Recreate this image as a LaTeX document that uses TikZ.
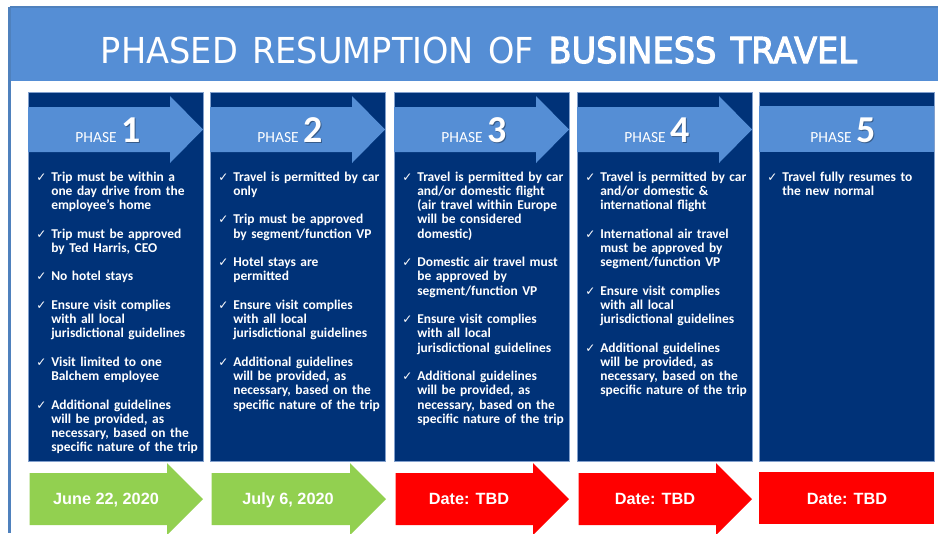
\documentclass[tikz,border=0pt]{standalone}
\usepackage{fontspec}
\newfontfamily\carl{Carlito}
\newfontfamily\arl{Liberation Sans}
\newfontfamily\dvs{DejaVu Sans}
\newfontfamily\ttlfont[WordSpace=1.35]{DejaVu Sans}
\definecolor{bandblue}{RGB}{85,142,213}
\definecolor{navy}{RGB}{0,50,120}
\definecolor{grn}{RGB}{146,208,80}
\definecolor{frameblue}{RGB}{79,129,189}
\definecolor{boxedge}{RGB}{130,160,205}
\newcommand\phfont{\carl\fontsize{11.6}{13}\selectfont}
\newcommand\numfont{\carl\bfseries\fontsize{28.5}{30}\selectfont}
\newcommand\bitem[4]{%
  \node[chk] (#1c) at (#2+8,181+14.25*#3) {✓};
  \node[itm] (#1) at (#2+23,181+14.25*#3) {#4};}
\newcommand\phaselabel[3]{%
  \node[phs,text=black,text opacity=0.35] (#1s) at (#2+1.3,142+1.3) {\phantom{\phfont PHASE}\hspace{3.5pt}{\numfont #3}};
  \node[phs] (#1) at (#2,142) {{\phfont PHASE}\hspace{3.5pt}{\numfont #3}};}
\begin{document}
\begin{tikzpicture}[x=0.75pt,y=-0.75pt,
  colbox/.style={fill=navy,draw=boxedge,line width=0.4pt},
  hdrarrow/.style={fill=bandblue},
  grnarrow/.style={fill=grn},
  redarrow/.style={fill=red},
  itm/.style={anchor=base west,inner sep=0pt,text width=125pt,align=left,text=white,
    font=\carl\bfseries\fontsize{10.1}{10.69}\selectfont},
  chk/.style={anchor=base west,inner sep=0pt,text=white,font=\dvs\fontsize{9}{9}\selectfont},
  phs/.style={anchor=base,inner sep=0pt,text=white},
  datetxt/.style={anchor=base,inner sep=0pt,text=white,font=\arl\bfseries\fontsize{12.2}{14}\selectfont}]
\useasboundingbox (0,0) rectangle (938,533);
\fill[white] (0,0) rectangle (938,533);
% frame and title band
\fill[bandblue] (9,7) rectangle (938,81);
\draw[frameblue,line width=1.8pt] (9.5,7) -- (9.5,533);
\draw[frameblue,line width=1.2pt] (9.5,7) -- (938,7);
\node[anchor=base,inner sep=0pt,text=white] (title) at (479,63)
  {\scalebox{0.94}[1]{\ttlfont\fontsize{26.8}{30}\selectfont PHASED RESUMPTION OF {\addfontfeature{FakeBold=3}BUSINESS TRAVEL}}};
% columns
\foreach \L in {28,210,394,577,759}{
  \draw[colbox] (\L,92) rectangle (\L+175,461);
}
% header arrows
\foreach \L in {28,210,394,577}{
  \fill[hdrarrow] (\L,107) -- (\L+142,107) -- (\L+142,96) -- (\L+175,129.5)
     -- (\L+142,163) -- (\L+142,152) -- (\L,152) -- cycle;
}
\fill[hdrarrow] (759,106) rectangle (934,152);
\phaselabel{ph1}{108}{1}
\phaselabel{ph2}{290}{2}
\phaselabel{ph3}{474}{3}
\phaselabel{ph4}{657}{4}
\phaselabel{ph5}{843}{5}
% bottom arrows
\fill[grnarrow] (29.5,473) -- (167,473) -- (167,463) -- (203,499) -- (167,535) -- (167,525) -- (29.5,525) -- cycle;
\fill[grnarrow] (211.5,473) -- (350,473) -- (350,463) -- (386,499) -- (350,535) -- (350,525) -- (211.5,525) -- cycle;
\fill[redarrow] (395.5,473) -- (533,473) -- (533,463) -- (569,499) -- (533,535) -- (533,525) -- (395.5,525) -- cycle;
\fill[redarrow] (578.5,473) -- (716,473) -- (716,463) -- (752,499) -- (716,535) -- (716,525) -- (578.5,525) -- cycle;
\fill[redarrow] (759,472) rectangle (934,524);
\node[datetxt] (d1) at (106,504) {June 22, 2020};
\node[datetxt] (d2) at (288,504) {July 6, 2020};
\node[datetxt] (d3) at (469,504) {Date: TBD};
\node[datetxt] (d4) at (655,504) {Date: TBD};
\node[datetxt] (d5) at (847,504) {Date: TBD};
% column 1
\bitem{a1}{28}{0}{Trip must be within a\\one day drive from the\\employee’s home}
\bitem{a2}{28}{4}{Trip must be approved\\by Ted Harris, CEO}
\bitem{a3}{28}{7}{No hotel stays}
\bitem{a4}{28}{9}{Ensure visit complies\\with all local\\jurisdictional guidelines}
\bitem{a5}{28}{13}{Visit limited to one\\Balchem employee}
\bitem{a6}{28}{16}{Additional guidelines\\will be provided, as\\necessary, based on the\\specific nature of the trip}
% column 2
\bitem{b1}{210}{0}{Travel is permitted by car\\only}
\bitem{b2}{210}{3}{Trip must be approved\\by segment/function VP}
\bitem{b3}{210}{6}{Hotel stays are\\permitted}
\bitem{b4}{210}{9}{Ensure visit complies\\with all local\\jurisdictional guidelines}
\bitem{b5}{210}{13}{Additional guidelines\\will be provided, as\\necessary, based on the\\specific nature of the trip}
% column 3
\bitem{c1}{394}{0}{Travel is permitted by car\\and/or domestic flight\\(air travel within Europe\\will be considered\\domestic)}
\bitem{c2}{394}{6}{Domestic air travel must\\be approved by\\segment/function VP}
\bitem{c3}{394}{10}{Ensure visit complies\\with all local\\jurisdictional guidelines}
\bitem{c4}{394}{14}{Additional guidelines\\will be provided, as\\necessary, based on the\\specific nature of the trip}
% column 4
\bitem{e1}{577}{0}{Travel is permitted by car\\and/or domestic \&\\international flight}
\bitem{e2}{577}{4}{International air travel\\must be approved by\\segment/function VP}
\bitem{e3}{577}{8}{Ensure visit complies\\with all local\\jurisdictional guidelines}
\bitem{e4}{577}{12}{Additional guidelines\\will be provided, as\\necessary, based on the\\specific nature of the trip}
% column 5
\bitem{f1}{759}{0}{Travel fully resumes to\\the new normal}
\end{tikzpicture}
\end{document}
